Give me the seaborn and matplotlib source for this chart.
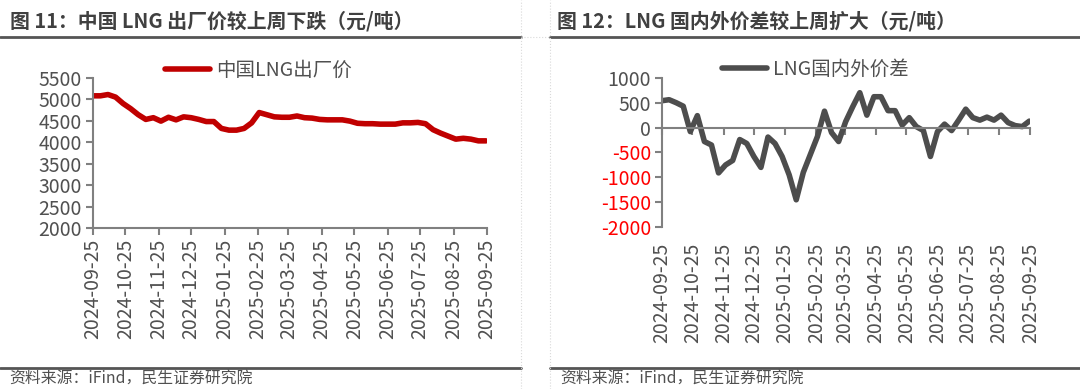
import numpy as np
import pandas as pd
import matplotlib
matplotlib.use('Agg')
import matplotlib.pyplot as plt
import matplotlib.dates as mdates
from matplotlib.lines import Line2D
import seaborn as sns

# weekly data, 2024-09-25 .. 2025-09-24
dates = pd.date_range('2024-09-25', periods=53, freq='7D')

lng_price = [5080, 5080, 5110, 5050, 4900, 4780, 4640, 4530, 4570, 4490,
             4580, 4520, 4590, 4570, 4530, 4480, 4480, 4320, 4280, 4280,
             4320, 4450, 4690, 4640, 4590, 4580, 4580, 4610, 4570, 4560,
             4530, 4520, 4520, 4520, 4490, 4440, 4430, 4430, 4420, 4420,
             4420, 4450, 4450, 4460, 4430, 4290, 4210, 4140, 4070, 4090,
             4070, 4030, 4030]

lng_spread = [540, 560, 500, 430, -80, 240, -280, -350, -910, -750,
              -660, -240, -320, -580, -800, -190, -320, -580, -950, -1450,
              -900, -540, -180, 330, -100, -280, 120, 420, 700, 250,
              620, 620, 340, 340, 50, 200, 20, -60, -580, -80,
              70, -60, 150, 370, 200, 150, 210, 150, 250, 100,
              40, 20, 130]

tick_labels = ['2024-09-25', '2024-10-25', '2024-11-25', '2024-12-25',
               '2025-01-25', '2025-02-25', '2025-03-25', '2025-04-25',
               '2025-05-25', '2025-06-25', '2025-07-25', '2025-08-25',
               '2025-09-25']

df = pd.DataFrame({'date': dates, 'price': lng_price, 'spread': lng_spread})

sns.set_theme(style='white')
plt.rcParams['font.family'] = ['Noto Sans CJK SC', 'DejaVu Sans']
plt.rcParams['axes.unicode_minus'] = False

TXT = '#505050'
AX = '#808080'
FS = 14

fig = plt.figure(figsize=(10.8, 3.89), dpi=100)
ax1 = fig.add_axes([0.086, 0.414, 0.365, 0.386])
ax2 = fig.add_axes([0.613, 0.416, 0.341, 0.384])

tick_pos = pd.to_datetime(tick_labels)
xlim = (tick_pos[0], tick_pos[-1])

# ---- left chart
sns.lineplot(data=df, x='date', y='price', ax=ax1, color='#C00000', lw=4,
             label='中国LNG出厂价')
ax1.set_xlim(xlim)
ax1.set_ylim(2000, 5500)
ax1.set_yticks(np.arange(2000, 5501, 500))
ax1.set_xticks(tick_pos)
ax1.set_xticklabels(tick_labels, rotation=90)
ax1.tick_params(axis='both', colors=AX, labelcolor=TXT, labelsize=FS,
                length=5, width=1.5, pad=3, bottom=True, left=True)

# ---- right chart
sns.lineplot(data=df, x='date', y='spread', ax=ax2, color='#4D4D4D', lw=4,
             label='LNG国内外价差')
ax2.set_xlim(xlim)
ax2.set_ylim(-2000, 1000)
ax2.set_yticks(np.arange(-2000, 1001, 500))
ax2.set_xticks(tick_pos)
ax2.spines['bottom'].set_position(('data', 0))
ax2.tick_params(axis='x', colors=AX, length=5, width=1.5, bottom=True,
                labelbottom=False)
ax2.tick_params(axis='y', colors=AX, labelsize=FS, length=5, width=1.5,
                pad=3, left=True)
for lab in ax2.get_yticklabels():
    lab.set_color('#FF0000' if lab.get_text().startswith('-') else TXT)

sec = ax2.secondary_xaxis(0.0)
sec.set_xticks(mdates.date2num(tick_pos))
sec.set_xticklabels(tick_labels, rotation=90)
sec.spines['bottom'].set_visible(False)
sec.tick_params(length=0, labelsize=FS, labelcolor=TXT, pad=11)

for ax in (ax1, ax2):
    for s in ('top', 'right'):
        ax.spines[s].set_visible(False)
    for s in ('left', 'bottom'):
        ax.spines[s].set_color(AX)
        ax.spines[s].set_linewidth(1.5)
    ax.set_xlabel('')
    ax.set_ylabel('')

leg_kw = dict(loc='center', frameon=False, fontsize=FS, handlelength=2.3,
              handletextpad=0.3, borderpad=0)
l1 = ax1.legend(bbox_to_anchor=(0.42, 1.05), **leg_kw)
l2 = ax2.legend(bbox_to_anchor=(0.416, 1.06), **leg_kw)
for leg in (l1, l2):
    for t in leg.get_texts():
        t.set_color(TXT)

# ---- titles, rules and source notes
fig.text(0.009, 0.945, '图 11：中国 LNG 出厂价较上周下跌（元/吨）', fontsize=14.3,
         fontweight='bold', color='#404040', va='center')
fig.text(0.516, 0.945, '图 12：LNG 国内外价差较上周扩大（元/吨）', fontsize=14.3,
         fontweight='bold', color='#404040', va='center')
fig.text(0.009, 0.024, '资料来源：iFind，民生证券研究院', fontsize=11.4,
         color=TXT, va='center')
fig.text(0.519, 0.024, '资料来源：iFind，民生证券研究院', fontsize=11.4,
         color=TXT, va='center')

y_top = 1 - 37 / 389
y_bot = 1 - 368 / 389
for x0, x1 in ((0, 521 / 1080), (550 / 1080, 1)):
    for y in (y_top, y_bot):
        fig.add_artist(Line2D([x0, x1], [y, y], color='#555555', lw=2))
for x in (521 / 1080, 550 / 1080):
    fig.add_artist(Line2D([x, x], [0, 1], color='#D9D9D9', lw=0.8, ls=':'))
fig.add_artist(Line2D([521 / 1080, 550 / 1080], [y_top, y_top],
                      color='#D9D9D9', lw=0.8, ls=':'))

fig.savefig('out.png', dpi=100)
